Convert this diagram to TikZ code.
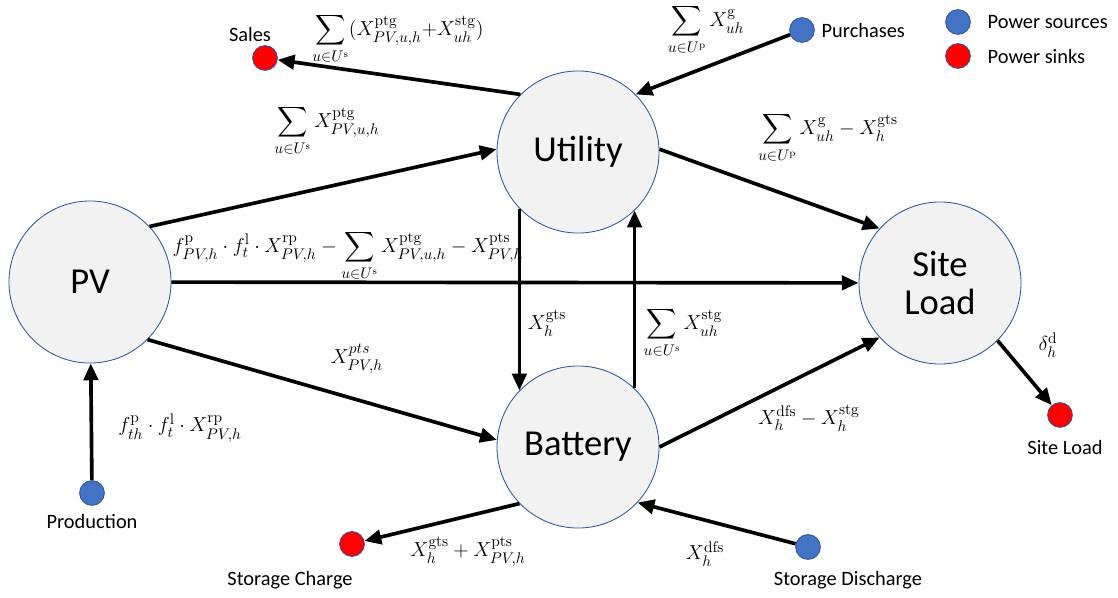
\documentclass[tikz,border=0pt]{standalone}
\usepackage{amsmath,amssymb}
\usepackage[no-math]{fontspec}
\setmainfont{Carlito}
\usepackage{tikz}
\usetikzlibrary{positioning,arrows.meta}
\definecolor{ringblue}{HTML}{2F5597}
\definecolor{srcblue}{HTML}{4472C4}
\definecolor{sinkred}{HTML}{FF0000}
\definecolor{hubgray}{HTML}{F2F2F2}

\begin{document}
\begin{tikzpicture}[
x=0.025cm, y=-0.025cm,
hub/.style={circle, draw=ringblue, line width=0.6pt, fill=hubgray, minimum size=4.05cm, inner sep=0pt, align=center, font=\fontsize{26}{27}\selectfont},
source/.style={circle, draw=ringblue, line width=0.6pt, fill=srcblue, minimum size=0.62cm, inner sep=0pt},
sink/.style={source, fill=sinkred},
tag/.style={font=\fontsize{14.5}{17}\selectfont, inner sep=1pt},
amount/.style={font=\fontsize{15}{18}\selectfont, inner sep=1pt},
flow/.style={-{Triangle[length=4.2mm,width=3.6mm]}, line width=2.6pt, black}
]
\useasboundingbox (0,0) rectangle (1118,598);
% main hubs
\node[hub] (pv) at (90,282) {PV};
\node[hub] (utility) at (578,152) {Utility};
\node[hub] (site) at (940,283) {Site\\Load};
\node[hub] (battery) at (578,447) {Battery};
% sources and sinks
\node[sink] (sales) at (265,58) {};
\node[source] (purchases) at (802,30) {};
\node[source] (production) at (92,493) {};
\node[sink] (sinkload) at (1060,415) {};
\node[sink] (charge) at (352,544) {};
\node[source] (discharge) at (808,547) {};
\node[tag] (salestag) at (250,34) {Sales};
\node[tag, anchor=west] (purchasestag) at (820,30) {Purchases};
\node[tag] (productiontag) at (92,521) {Production};
\node[tag] (sinkloadtag) at (1065,447) {Site Load};
\node[tag] (chargetag) at (290,580) {Storage Charge};
\node[tag] (dischargetag) at (848,580) {Storage Discharge};
% legend
\node[source] (keysource) at (958,22) {};
\node[sink] (keysink) at (958,56) {};
\node[tag, anchor=west] (keysourcetag) at (986,22) {Power sources};
\node[tag, anchor=west] (keysinktag) at (986,56) {Power sinks};
% flows
\draw[flow] (utility.135) -- (sales);
\draw[flow] (purchases) -- (utility.45);
\draw[flow] (pv.43) -- (utility.178);
\draw[flow] (utility.2) -- (site.138);
\draw[flow] (pv) -- (site);
\draw[flow] (utility.-136) -- (battery.136);
\draw[flow] (battery.46.6) -- (utility.-46.6);
\draw[flow] (pv.-45) -- (battery.175);
\draw[flow] (battery.0) -- (site.-138);
\draw[flow] (battery.224) -- (charge);
\draw[flow] (discharge) -- (battery.-43);
\draw[flow] (production) -- (pv);
\draw[flow] (site.-45) -- (sinkload);
% flow amounts
\node[amount] (salesamt) at (398,39) {$\displaystyle\sum_{u\in U^{\mathrm{s}}}(X^{\mathrm{ptg}}_{PV,u,h}{+}X^{\mathrm{stg}}_{uh})$};
\node[amount] (purchamt) at (706,30) {$\displaystyle\sum_{u\in U^{\mathrm{p}}} X^{\mathrm{g}}_{uh}$};
\node[amount] (pvutilamt) at (327,131) {$\displaystyle\sum_{u\in U^{\mathrm{s}}} X^{\mathrm{ptg}}_{PV,u,h}$};
\node[amount] (utilsiteamt) at (828,138) {$\displaystyle\sum_{u\in U^{\mathrm{p}}} X^{\mathrm{g}}_{uh}-X^{\mathrm{gts}}_{h}$};
\node[amount] (pvsiteamt) at (348,256) {$\displaystyle f^{\mathrm{p}}_{PV,h}\cdot f^{\mathrm{l}}_{t}\cdot X^{\mathrm{rp}}_{PV,h}-\sum_{u\in U^{\mathrm{s}}} X^{\mathrm{ptg}}_{PV,u,h}-X^{\mathrm{pts}}_{PV,h}$};
\node[amount] (gtsamt) at (547,323) {$X^{\mathrm{gts}}_{h}$};
\node[amount] (stgamt) at (683,333) {$\displaystyle\sum_{u\in U^{\mathrm{s}}} X^{\mathrm{stg}}_{uh}$};
\node[amount] (ptsamt) at (357,359) {$X^{pts}_{PV,h}$};
\node[amount] (prodamt) at (180,428) {$f^{\mathrm{p}}_{th}\cdot f^{\mathrm{l}}_{t}\cdot X^{\mathrm{rp}}_{PV,h}$};
\node[amount] (dfsamt) at (809,418) {$X^{\mathrm{dfs}}_{h}-X^{\mathrm{stg}}_{h}$};
\node[amount] (deltaamt) at (1048,345) {$\delta^{\mathrm{d}}_{h}$};
\node[amount] (chargeamt) at (468,552) {$X^{\mathrm{gts}}_{h}+X^{\mathrm{pts}}_{PV,h}$};
\node[amount] (dischargeamt) at (705,554) {$X^{\mathrm{dfs}}_{h}$};
\end{tikzpicture}
\end{document}
